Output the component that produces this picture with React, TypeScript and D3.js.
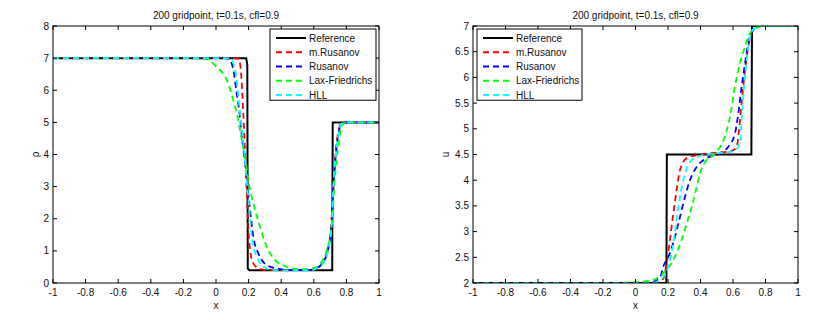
import * as d3 from 'd3'

type Pt = [number, number]

const title = '200 gridpoint, t=0.1s, cfl=0.9'
const seriesNames = ['Reference', 'm.Rusanov', 'Rusanov', 'Lax-Friedrichs', 'HLL']
const seriesColors = ['#000000', '#ff0000', '#0000ff', '#00ff00', '#00ffff']

const xTicks = [-1, -0.8, -0.6, -0.4, -0.2, 0, 0.2, 0.4, 0.6, 0.8, 1]
const rhoTicks = [0, 1, 2, 3, 4, 5, 6, 7, 8]
const uTicks = [2, 2.5, 3, 3.5, 4, 4.5, 5, 5.5, 6, 6.5, 7]

// density
const rhoRef: Pt[] = [[-1, 7], [0.185, 7], [0.192, 6.8], [0.195, 0.45], [0.205, 0.4], [0.713, 0.4], [0.716, 5], [1, 5]]
const rhoMRus: Pt[] = [[-1, 7], [0.1, 7], [0.14, 6.97], [0.157, 6.3], [0.168, 5.2], [0.178, 4.1], [0.188, 2.9], [0.198, 1.75], [0.209, 1.03], [0.229, 0.61], [0.27, 0.43], [0.32, 0.4], [0.58, 0.4], [0.62, 0.46], [0.655, 0.62], [0.685, 1.0], [0.705, 1.7], [0.72, 3.0], [0.735, 4.1], [0.75, 4.7], [0.77, 4.97], [0.8, 5], [1, 5]]
const rhoRus: Pt[] = [[-1, 7], [0.05, 7], [0.08, 6.97], [0.106, 6.65], [0.127, 5.9], [0.147, 5.18], [0.161, 4.45], [0.178, 3.73], [0.195, 2.9], [0.209, 2.27], [0.229, 1.44], [0.26, 0.92], [0.311, 0.56], [0.393, 0.43], [0.45, 0.4], [0.56, 0.4], [0.61, 0.45], [0.65, 0.6], [0.685, 1.0], [0.708, 1.7], [0.722, 3.1], [0.738, 4.15], [0.755, 4.75], [0.775, 4.97], [0.8, 5], [1, 5]]
const rhoLF: Pt[] = [[-1, 7], [-0.12, 7], [-0.06, 6.97], [0.004, 6.73], [0.066, 6.32], [0.106, 5.7], [0.137, 5.07], [0.158, 4.45], [0.178, 3.93], [0.198, 3.2], [0.229, 2.48], [0.27, 1.75], [0.311, 1.13], [0.362, 0.72], [0.434, 0.51], [0.515, 0.43], [0.597, 0.46], [0.64, 0.61], [0.68, 1.03], [0.71, 1.8], [0.73, 3.3], [0.75, 4.24], [0.771, 4.9], [0.8, 5], [1, 5]]
const rhoHLL: Pt[] = [[-1, 7], [0.06, 7], [0.09, 6.97], [0.117, 6.63], [0.137, 5.8], [0.157, 4.87], [0.172, 4.14], [0.19, 3.1], [0.205, 2.27], [0.219, 1.44], [0.25, 0.82], [0.29, 0.51], [0.34, 0.41], [0.4, 0.39], [0.57, 0.39], [0.615, 0.45], [0.655, 0.6], [0.688, 1.0], [0.708, 1.7], [0.722, 3.2], [0.74, 4.2], [0.757, 4.78], [0.778, 4.98], [0.8, 5], [1, 5]]

// velocity
const uRef: Pt[] = [[-1, 2], [0.19, 2], [0.193, 4.5], [0.713, 4.5], [0.717, 7], [1, 7]]
const uMRus: Pt[] = [[-1, 2], [0.12, 2], [0.17, 2.08], [0.192, 2.38], [0.212, 2.84], [0.233, 3.36], [0.253, 3.81], [0.274, 4.2], [0.315, 4.43], [0.397, 4.5], [0.47, 4.53], [0.56, 4.55], [0.6, 4.58], [0.623, 4.65], [0.637, 4.98], [0.653, 5.5], [0.674, 6.14], [0.694, 6.6], [0.72, 6.9], [0.76, 7], [1, 7]]
const uRus: Pt[] = [[-1, 2], [0.08, 2], [0.15, 2.1], [0.171, 2.32], [0.212, 2.58], [0.243, 2.9], [0.274, 3.29], [0.305, 3.68], [0.335, 4.0], [0.377, 4.26], [0.438, 4.43], [0.52, 4.52], [0.571, 4.65], [0.612, 4.91], [0.633, 5.3], [0.653, 5.82], [0.674, 6.27], [0.694, 6.66], [0.72, 6.9], [0.76, 7], [1, 7]]
const uLF: Pt[] = [[-1, 2], [-0.15, 2], [0.046, 2.03], [0.11, 2.06], [0.171, 2.19], [0.233, 2.45], [0.284, 2.84], [0.315, 3.16], [0.346, 3.48], [0.372, 3.81], [0.397, 4.13], [0.438, 4.39], [0.47, 4.47], [0.5, 4.56], [0.55, 4.85], [0.582, 5.24], [0.612, 5.82], [0.643, 6.27], [0.674, 6.6], [0.705, 6.86], [0.766, 6.99], [0.8, 7], [1, 7]]
const uHLL: Pt[] = [[-1, 2], [0.1, 2], [0.16, 2.08], [0.202, 2.32], [0.233, 2.77], [0.253, 3.23], [0.274, 3.68], [0.305, 4.13], [0.346, 4.39], [0.417, 4.49], [0.48, 4.52], [0.58, 4.55], [0.62, 4.6], [0.643, 4.72], [0.653, 5.17], [0.668, 5.82], [0.684, 6.34], [0.705, 6.79], [0.73, 6.95], [0.77, 7], [1, 7]]

const font = '"Liberation Sans", Arial, Helvetica, sans-serif'
const fmt = (d: number) => String(+d.toFixed(1))

type PanelProps = {
  id: string
  left: number
  top: number
  width: number
  height: number
  yDomain: [number, number]
  yTicks: number[]
  yLabel: string
  yLabelX: number
  legendX: number
  legendW: number
  series: Pt[][]
}

function Panel({ id, left, top, width, height, yDomain, yTicks, yLabel, yLabelX, legendX, legendW, series }: PanelProps) {
  const x = d3.scaleLinear().domain([-1, 1]).range([left, left + width])
  const y = d3.scaleLinear().domain(yDomain).range([top + height, top])
  const bottom = top + height
  const right = left + width
  const tk = 4

  const smooth = d3.line<Pt>().x(d => x(d[0])).y(d => y(d[1])).curve(d3.curveMonotoneX)
  const straight = d3.line<Pt>().x(d => x(d[0])).y(d => y(d[1]))

  const legendTop = top + 3
  const rowH = 14.25

  return (
    <g>
      <defs>
        <clipPath id={id}>
          <rect x={left} y={top} width={width} height={height} />
        </clipPath>
      </defs>
      <rect x={left} y={top} width={width} height={height} fill="#fff" />
      <g clipPath={`url(#${id})`}>
        {series.map((s, i) => (
          <path
            key={i}
            d={(i === 0 ? straight(s) : smooth(s)) || ''}
            fill="none"
            stroke={seriesColors[i]}
            strokeWidth={i === 0 ? 2 : 1.8}
            strokeDasharray={i === 0 ? undefined : '6 4'}
          />
        ))}
      </g>
      <rect x={left} y={top} width={width} height={height} fill="none" stroke="#000" strokeWidth={1} />
      {xTicks.map(t => (
        <g key={'x' + t}>
          <line x1={x(t)} x2={x(t)} y1={bottom} y2={bottom - tk} stroke="#000" />
          <line x1={x(t)} x2={x(t)} y1={top} y2={top + tk} stroke="#000" />
          <text x={x(t)} y={bottom + 13} textAnchor="middle" fontSize={10} fontFamily={font} fill="#111">{fmt(t)}</text>
        </g>
      ))}
      {yTicks.map(t => (
        <g key={'y' + t}>
          <line x1={left} x2={left + tk} y1={y(t)} y2={y(t)} stroke="#000" />
          <line x1={right} x2={right - tk} y1={y(t)} y2={y(t)} stroke="#000" />
          <text x={left - 4} y={y(t)} dy="0.35em" textAnchor="end" fontSize={10} fontFamily={font} fill="#111">{fmt(t)}</text>
        </g>
      ))}
      <text x={left + width / 2} y={19} textAnchor="middle" fontSize={10} fontFamily={font} fill="#111">{title}</text>
      <text x={left + width / 2} y={309} textAnchor="middle" fontSize={10} fontFamily={font} fill="#111">x</text>
      <text transform={`translate(${yLabelX},${top + height / 2}) rotate(-90)`} textAnchor="middle" dy="0.35em" fontSize={10} fontFamily={font} fill="#111">{yLabel}</text>
      <g>
        <rect x={legendX} y={legendTop} width={legendW} height={rowH * 5} fill="#fff" stroke="#000" strokeWidth={1} />
        {seriesNames.map((n, i) => {
          const cy = legendTop + 9 + i * rowH
          return (
            <g key={n}>
              <line
                x1={legendX + 6}
                x2={legendX + 36}
                y1={cy}
                y2={cy}
                stroke={seriesColors[i]}
                strokeWidth={i === 0 ? 2 : 1.8}
                strokeDasharray={i === 0 ? undefined : '6 4'}
              />
              <text x={legendX + 39} y={cy} dy="0.35em" fontSize={10} fontFamily={font} fill="#111">{n}</text>
            </g>
          )
        })}
      </g>
    </g>
  )
}

export default function App() {
  return (
    <svg width={833} height={320} style={{ position: 'absolute', left: 0, top: 0, background: '#fff' }}>
      <rect width={833} height={320} fill="#fff" />
      <Panel
        id="clipL"
        left={53}
        top={26}
        width={326}
        height={257}
        yDomain={[0, 8]}
        yTicks={rhoTicks}
        yLabel="ρ"
        yLabelX={35}
        legendX={270}
        legendW={106}
        series={[rhoRef, rhoMRus, rhoRus, rhoLF, rhoHLL]}
      />
      <Panel
        id="clipR"
        left={473}
        top={26}
        width={325}
        height={257}
        yDomain={[2, 7]}
        yTicks={uTicks}
        yLabel="u"
        yLabelX={445}
        legendX={477}
        legendW={105}
        series={[uRef, uMRus, uRus, uLF, uHLL]}
      />
    </svg>
  )
}
